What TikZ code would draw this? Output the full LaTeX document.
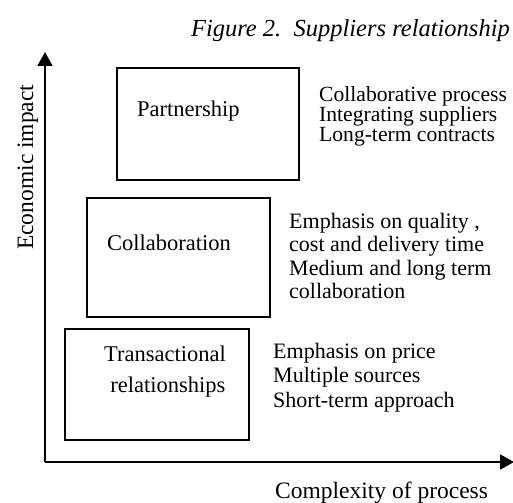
\documentclass[tikz,border=0pt]{standalone}
\usepackage{fontspec}
\setmainfont{Liberation Serif}
\usetikzlibrary{arrows.meta}
\begin{document}
\begin{tikzpicture}[x=1bp,y=-1bp,
  box/.style={draw=black,line width=1.6bp,rectangle,inner sep=0pt,anchor=north west},
  lbl/.style={inner sep=0pt,font=\fontsize{22.5bp}{31bp}\selectfont},
  side/.style={inner sep=0pt,align=left,anchor=base west},
  axis/.style={line width=1.8bp,-{Triangle[length=14bp,width=15bp]}}]
\useasboundingbox (0,0) rectangle (513,503);
% title
\node[inner sep=0pt,anchor=base east,font=\fontsize{24.5bp}{28bp}\selectfont\itshape] (title) at (510,37) {Figure 2.\ \ Suppliers relationship};
% axes
\coordinate (origin) at (45,462);
\coordinate (ytop) at (45,52);
\coordinate (xend) at (514,462);
\draw[axis] (origin) -- (ytop);
\draw[axis] (origin) -- (xend);
\node[inner sep=0pt,rotate=90,anchor=base west,font=\fontsize{23.5bp}{28bp}\selectfont] (ylab) at (33,250) {Economic impact};
\node[inner sep=0pt,anchor=base west,font=\fontsize{23.5bp}{28bp}\selectfont] (xlab) at (275,498) {Complexity of process};
% boxes
\node[box,minimum width=182bp,minimum height=112bp] (part) at (116,67) {};
\node[box,minimum width=183bp,minimum height=119bp] (coll) at (86,197) {};
\node[box,minimum width=184bp,minimum height=111bp] (trans) at (64,328) {};
% box labels
\node[lbl,anchor=base west] (partl) at (137,117) {Partnership};
\node[lbl,anchor=base west] (colll) at (107,250) {Collaboration};
\node[lbl,anchor=base,align=center] (transl) at (165,392) {Transactional\\\ relationships};
% side texts (anchored at the baseline of the last line)
\node[side,font=\fontsize{21.6bp}{20.2bp}\selectfont] (partt) at (319,141.5) {Collaborative process\\Integrating suppliers\\Long-term contracts};
\node[side,font=\fontsize{22bp}{23.5bp}\selectfont] (collt) at (289,298.5) {Emphasis on quality ,\\cost and delivery time\\Medium and long term\\collaboration};
\node[side,font=\fontsize{22bp}{24.5bp}\selectfont] (transt) at (273,407) {Emphasis on price\\Multiple sources\\Short-term approach};
\end{tikzpicture}
\end{document}
